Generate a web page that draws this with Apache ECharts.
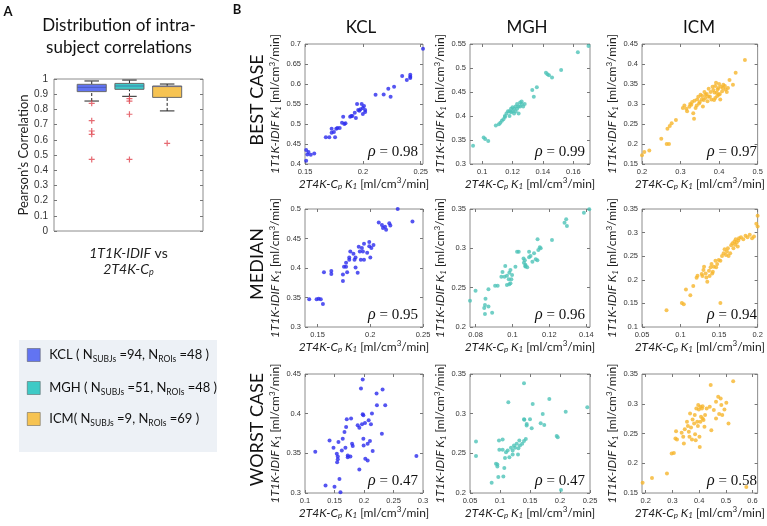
<!DOCTYPE html>
<html>
<head>
<meta charset="utf-8">
<script src="https://cdn.jsdelivr.net/npm/echarts@6/dist/echarts.min.js"></script>
<style>
html, body { margin: 0; padding: 0; background: #fff; }
#main { width: 767px; height: 526px; }
</style>
</head>
<body>
<div id="main"></div>
<script>
// ---- data ----
var sites = ['KCL', 'MGH', 'ICM'];
var nSubjs = [94, 51, 9];
var nRois = [48, 48, 69];
var rowNames = ['BEST CASE', 'MEDIAN', 'WORST CASE'];

// box plot: [lower whisker, Q1, median, Q3, upper whisker]
var boxStats = [
    [0.855, 0.917, 0.945, 0.965, 0.987],
    [0.886, 0.932, 0.954, 0.971, 0.993],
    [0.79, 0.879, 0.95, 0.954, 0.967]
];
var boxOutliers = [
    [0.84, 0.726, 0.658, 0.636, 0.471],
    [0.871, 0.855, 0.768, 0.471],
    [0.577]
];
var corrTicks = [0, 0.1, 0.2, 0.3, 0.4, 0.5, 0.6, 0.7, 0.8, 0.9, 1];

var rhoValues = [[0.98, 0.99, 0.97], [0.95, 0.96, 0.94], [0.47, 0.47, 0.58]];

var kclBest = [[0.151,0.408],[0.151,0.435],[0.152,0.424],[0.153,0.43],[0.155,0.423],[0.158,0.426],
    [0.168,0.467],[0.171,0.467],[0.173,0.478],[0.173,0.488],[0.175,0.48],[0.176,0.467],[0.177,0.488],
    [0.178,0.49],[0.18,0.49],[0.182,0.503],[0.183,0.518],[0.184,0.5],[0.185,0.502],[0.189,0.518],
    [0.19,0.52],[0.191,0.52],[0.193,0.528],[0.194,0.515],[0.195,0.55],[0.196,0.535],[0.197,0.533],
    [0.198,0.537],[0.199,0.55],[0.2,0.525],[0.2,0.54],[0.201,0.545],[0.202,0.535],[0.202,0.53],
    [0.211,0.573],[0.218,0.574],[0.222,0.588],[0.224,0.568],[0.227,0.593],[0.234,0.62],[0.238,0.61],
    [0.241,0.618],[0.241,0.623],[0.241,0.615],[0.252,0.688]];
var mghBest = [[0.094,0.338],[0.101,0.355],[0.102,0.352],[0.104,0.348],[0.109,0.38],[0.111,0.383],
    [0.112,0.386],[0.113,0.39],[0.114,0.393],[0.115,0.398],[0.116,0.405],[0.117,0.41],[0.118,0.4],
    [0.119,0.408],[0.12,0.41],[0.12,0.418],[0.121,0.415],[0.122,0.42],[0.122,0.41],[0.123,0.425],
    [0.124,0.42],[0.124,0.405],[0.125,0.428],[0.126,0.43],[0.127,0.42],[0.128,0.425],[0.119,0.415],
    [0.121,0.405],[0.123,0.415],[0.125,0.42],[0.126,0.425],[0.118,0.41],[0.115,0.4],[0.133,0.454],
    [0.136,0.46],[0.134,0.44],[0.142,0.49],[0.143,0.487],[0.144,0.485],[0.146,0.48],[0.152,0.496],
    [0.163,0.533],[0.17,0.546]];
var icmBest = [[0.2,0.172],[0.206,0.18],[0.219,0.184],[0.25,0.213],[0.264,0.2],[0.27,0.2],[0.266,0.238],
    [0.272,0.245],[0.277,0.252],[0.288,0.26],[0.306,0.29],[0.317,0.282],[0.323,0.293],[0.328,0.298],
    [0.333,0.277],[0.335,0.263],[0.339,0.29],[0.343,0.311],[0.348,0.301],[0.352,0.323],[0.355,0.311],
    [0.358,0.294],[0.364,0.315],[0.365,0.323],[0.37,0.307],[0.373,0.338],[0.376,0.319],[0.38,0.311],
    [0.383,0.343],[0.388,0.329],[0.39,0.315],[0.392,0.353],[0.396,0.336],[0.399,0.323],[0.403,0.311],
    [0.405,0.343],[0.408,0.332],[0.411,0.348],[0.417,0.336],[0.423,0.34],[0.427,0.36],[0.436,0.348],
    [0.443,0.378],[0.467,0.41],[0.31,0.296],[0.315,0.288],[0.325,0.3],[0.33,0.305],[0.336,0.308],
    [0.342,0.296],[0.346,0.318],[0.35,0.305],[0.356,0.32],[0.36,0.31],[0.362,0.33],[0.368,0.325],
    [0.372,0.318],[0.378,0.33],[0.385,0.335],[0.39,0.345],[0.394,0.328],[0.398,0.34],[0.4,0.35],
    [0.402,0.325],[0.41,0.34],[0.415,0.345],[0.42,0.33],[0.395,0.32],[0.387,0.31]];

var kclMedian = [[0.1376,0.332],[0.142,0.347],[0.149,0.347],[0.151,0.348],[0.153,0.347],[0.155,0.339],
    [0.156,0.393],[0.163,0.395],[0.163,0.39],[0.174,0.378],[0.174,0.389],[0.175,0.402],[0.177,0.402],
    [0.178,0.393],[0.177,0.409],[0.18,0.414],[0.18,0.418],[0.181,0.428],[0.184,0.424],[0.185,0.414],
    [0.186,0.418],[0.186,0.401],[0.188,0.392],[0.189,0.436],[0.19,0.428],[0.191,0.414],[0.192,0.434],
    [0.193,0.428],[0.194,0.414],[0.194,0.441],[0.197,0.426],[0.199,0.444],[0.199,0.437],[0.2,0.418],
    [0.201,0.434],[0.203,0.439],[0.208,0.477],[0.211,0.473],[0.212,0.468],[0.214,0.47],[0.215,0.465],
    [0.218,0.476],[0.219,0.472],[0.226,0.5],[0.24,0.479]];
var mghMedian = [[0.077,0.2334],[0.08,0.246],[0.0847,0.224],[0.0851,0.228],[0.0851,0.2166],[0.087,0.226],
    [0.0854,0.236],[0.087,0.248],[0.089,0.218],[0.0906,0.2525],[0.092,0.2525],[0.094,0.264],[0.0946,0.27],
    [0.0957,0.264],[0.097,0.265],[0.097,0.2535],[0.0983,0.2543],[0.0983,0.269],[0.0994,0.2606],
    [0.1016,0.2767],[0.1034,0.2957],[0.106,0.287],[0.107,0.279],[0.107,0.277],[0.0961,0.2775],
    [0.0989,0.2725],[0.0998,0.266],[0.0989,0.2556],[0.098,0.2606],[0.1025,0.2957],[0.1062,0.2818],
    [0.1071,0.2775],[0.1067,0.285],[0.108,0.2759],[0.109,0.2886],[0.1098,0.2902],[0.1108,0.283],
    [0.1117,0.2936],[0.1126,0.286],[0.1135,0.285],[0.109,0.2957],[0.1136,0.3115],[0.114,0.2979],
    [0.1153,0.3],[0.1148,0.3013],[0.1214,0.3106],[0.1282,0.3326],[0.1291,0.3369],[0.1295,0.3284],
    [0.1387,0.3453],[0.1416,0.3496]];
var icmMedian = [[0.0818,0.1355],[0.1017,0.151],[0.1042,0.148],[0.107,0.1795],[0.1127,0.1675],
    [0.1165,0.1866],[0.1208,0.2044],[0.122,0.2087],[0.1275,0.2122],[0.1297,0.2207],[0.1305,0.2278],
    [0.1284,0.208],[0.1326,0.2136],[0.1335,0.2051],[0.1347,0.1959],[0.1369,0.2193],[0.1377,0.208],
    [0.139,0.2264],[0.1402,0.2335],[0.1411,0.2136],[0.1419,0.2172],[0.1432,0.2278],[0.1453,0.2406],
    [0.1475,0.2335],[0.1496,0.242],[0.1517,0.2406],[0.1462,0.2264],[0.1517,0.1511],[0.1538,0.2506],
    [0.1559,0.2562],[0.1572,0.2648],[0.1602,0.2598],[0.1589,0.2527],[0.1614,0.2669],[0.1623,0.2506],
    [0.1644,0.2562],[0.1657,0.2733],[0.1674,0.2776],[0.1686,0.2669],[0.1699,0.2811],[0.1708,0.274],
    [0.1716,0.2861],[0.1729,0.279],[0.1742,0.2705],[0.175,0.2832],[0.1758,0.2882],[0.1784,0.2903],
    [0.1814,0.2861],[0.1843,0.2932],[0.1869,0.2903],[0.1898,0.2953],[0.1928,0.2882],[0.1953,0.2918],
    [0.1983,0.3188],[0.2,0.3131],[0.2,0.3358]];

var kclWorst = [[0.1174,0.352],[0.1348,0.3093],[0.1416,0.3663],[0.1483,0.357],[0.15,0.308],
    [0.1539,0.3494],[0.1556,0.346],[0.1556,0.3426],[0.1545,0.3389],[0.1567,0.3642],[0.1584,0.3177],
    [0.1601,0.3008],[0.1624,0.3536],[0.164,0.3684],[0.1669,0.3769],[0.1685,0.357],[0.1697,0.3832],
    [0.1708,0.393],[0.1725,0.3473],[0.1725,0.3452],[0.1781,0.3938],[0.177,0.346],[0.1798,0.3621],
    [0.1809,0.3591],[0.1893,0.3853],[0.1921,0.3824],[0.1921,0.3296],[0.1949,0.4318],[0.1966,0.3866],
    [0.1978,0.4432],[0.1978,0.3993],[0.1989,0.398],[0.1989,0.3684],[0.1994,0.36],[0.2017,0.3883],
    [0.2022,0.3431],[0.2062,0.3409],[0.2062,0.3621],[0.2079,0.3917],[0.2101,0.3655],[0.2118,0.3866],
    [0.2135,0.4001],[0.2147,0.3528],[0.2213,0.4255],[0.2219,0.4107],[0.2303,0.3748],[0.2315,0.4306],
    [0.236,0.4107],[0.2888,0.3465]];
var mghWorst = [[0.06,0.2649],[0.06,0.2465],[0.0861,0.213],[0.0933,0.2368],[0.0956,0.236],[0.0956,0.2335],
    [0.0972,0.2201],[0.0983,0.2662],[0.1044,0.2674],[0.0989,0.2544],[0.1044,0.2544],[0.1056,0.2209],
    [0.1072,0.2314],[0.1083,0.244],[0.11,0.2515],[0.1128,0.2536],[0.1139,0.3144],[0.1156,0.2452],
    [0.1183,0.257],[0.1211,0.2536],[0.1233,0.2599],[0.125,0.257],[0.1211,0.2486],[0.1278,0.262],
    [0.1306,0.2565],[0.1322,0.2662],[0.1333,0.2599],[0.14,0.3383],[0.1406,0.2922],[0.1444,0.285],
    [0.1545,0.3122],[0.1822,0.3185],[0.14,0.2929],[0.15,0.2929],[0.1445,0.287],[0.1528,0.2816],
    [0.1712,0.2996],[0.1678,0.2878],[0.1738,0.2857],[0.1945,0.2718],[0.1962,0.2702],[0.2095,0.3025],
    [0.2455,0.308],[0.2017,0.2038],[0.137,0.262],[0.14,0.2655],[0.143,0.268],[0.13,0.2485]];
var icmWorst = [[0.1883,0.1674],[0.2234,0.1753],[0.2795,0.1826],[0.2971,0.2163],[0.3053,0.2174],
    [0.3111,0.2416],[0.3135,0.2539],[0.317,0.2399],[0.3345,0.2511],[0.3404,0.2444],[0.3462,0.2573],
    [0.3427,0.2331],[0.3544,0.2697],[0.3579,0.2624],[0.3614,0.2528],[0.3637,0.2444],[0.366,0.2837],
    [0.3696,0.2601],[0.3731,0.2399],[0.3754,0.2736],[0.3813,0.2669],[0.3836,0.2809],[0.3848,0.2489],
    [0.3871,0.2388],[0.3895,0.2921],[0.393,0.2697],[0.3953,0.2624],[0.3988,0.2904],[0.4012,0.2444],
    [0.4023,0.2275],[0.4047,0.2697],[0.407,0.2781],[0.4105,0.2921],[0.4129,0.2753],[0.4164,0.2725],
    [0.4199,0.2612],[0.4222,0.2809],[0.3965,0.2977],[0.4047,0.2949],[0.4129,0.296],[0.4281,0.2921],
    [0.4398,0.2949],[0.4456,0.2556],[0.455,0.2893],[0.4632,0.3034],[0.4632,0.2753],[0.4713,0.3118],
    [0.4749,0.2826],[0.4807,0.3089],[0.483,0.2977],[0.4865,0.2809],[0.4947,0.2904],[0.5018,0.3017],
    [0.5099,0.2669],[0.5275,0.338],[0.5766,0.16],[0.4433,0.3315]];

var panelData = [
    [kclBest, mghBest, icmBest],
    [kclMedian, mghMedian, icmMedian],
    [kclWorst, mghWorst, icmWorst]
];
// axis extents and tick labels of each panel
var xExtents = [
    [[0.15, 0.252], [0.092, 0.171], [0.2, 0.5]],
    [[0.138, 0.25], [0.077, 0.142], [0.05, 0.2]],
    [[0.1, 0.3], [0.05, 0.25], [0.186, 0.619]]
];
var xTickLabels = [
    [[0.15, 0.2, 0.25], [0.1, 0.12, 0.14, 0.16], [0.2, 0.3, 0.4, 0.5]],
    [[0.15, 0.2, 0.25], [0.08, 0.1, 0.12, 0.14], [0.05, 0.1, 0.15, 0.2]],
    [[0.1, 0.15, 0.2, 0.25, 0.3], [0.05, 0.1, 0.15, 0.2, 0.25], [0.2, 0.3, 0.4, 0.5, 0.6]]
];
var yTickLabels = [
    [[0.4, 0.45, 0.5, 0.55, 0.6, 0.65, 0.7], [0.3, 0.35, 0.4, 0.45, 0.5, 0.55], [0.15, 0.2, 0.25, 0.3, 0.35, 0.4, 0.45]],
    [[0.3, 0.35, 0.4, 0.45, 0.5], [0.2, 0.25, 0.3, 0.35], [0.1, 0.15, 0.2, 0.25, 0.3, 0.35]],
    [[0.3, 0.35, 0.4, 0.45], [0.2, 0.25, 0.3, 0.35], [0.15, 0.2, 0.25, 0.3, 0.35]]
];

// ---- styles / layout ----
var dotColors = ['#2a2aee', '#4dc3b8', '#f6b52c'];
var boxColors = ['#6274f2', '#3ecac6', '#f6c352'];
var colLeft = [305, 470, 642], colWidth = [118, 120, 120];
var rowTop = [44, 209, 374], rowHeight = [120, 118, 119];
var sansFont = 'Lato';
var tickFont = 'Liberation Sans';

var subRich = {
    it: { fontStyle: 'italic' },
    itsub: { fontStyle: 'italic', fontSize: 8, lineHeight: 8, verticalAlign: 'bottom' },
    sub: { fontSize: 8, lineHeight: 8, verticalAlign: 'bottom' },
    sup: { fontSize: 8, lineHeight: 8, verticalAlign: 'top' }
};
var xNameB = '{it|2T4K-C}{itsub|p}{it| K}{itsub|1} [ml/cm{sup|3}/min]';
var yNameB = '{it|1T1K-IDIF K}{itsub|1} [ml/cm{sup|3}/min]';

function fmt(v) { return String(+(+v).toFixed(3)); }

var grids = [{ left: 54, top: 79, width: 149, height: 152, show: true, borderColor: '#8c8c8c', borderWidth: 1 }];
var xAxes = [{
    type: 'value', gridIndex: 0, min: 0, max: 3.95,
    axisLine: { show: false }, axisTick: { show: false }, axisLabel: { show: false }, splitLine: { show: false },
    name: '{it|1T1K-IDIF} vs\n{it|2T4K-C}{itsub|p}', nameLocation: 'middle', nameGap: 14,
    nameTextStyle: { fontFamily: sansFont, fontSize: 14, color: '#222', lineHeight: 16,
        rich: { it: { fontStyle: 'italic', fontSize: 14 }, itsub: { fontStyle: 'italic', fontSize: 9, lineHeight: 9, verticalAlign: 'bottom' } } }
}];
var yAxes = [{
    type: 'value', gridIndex: 0, min: 0, max: 1,
    axisLine: { show: false }, splitLine: { show: false },
    axisTick: { inside: true, length: 3, lineStyle: { color: '#777' }, customValues: corrTicks },
    axisLabel: { fontSize: 10, color: '#333', fontFamily: tickFont, margin: 6, formatter: fmt, customValues: corrTicks },
    name: 'Pearson’s Correlation', nameLocation: 'middle', nameGap: 20, nameRotate: 90,
    nameTextStyle: { fontFamily: sansFont, fontSize: 13, color: '#222' }
}, {
    type: 'value', gridIndex: 0, min: 0, max: 1, position: 'right',
    axisLine: { show: false }, splitLine: { show: false }, axisLabel: { show: false },
    axisTick: { inside: true, length: 3, lineStyle: { color: '#777' }, customValues: corrTicks }
}];

var series = [];
var graphics = [
    { type: 'text', x: 8, y: 12, style: { text: 'A', font: 'bold 13px ' + sansFont, fill: '#111', align: 'center', verticalAlign: 'middle' } },
    { type: 'text', x: 237, y: 10, style: { text: 'B', font: 'bold 13px ' + sansFont, fill: '#111', align: 'center', verticalAlign: 'middle' } },
    { type: 'text', x: 119, y: 37, style: { text: 'Distribution of intra-\nsubject correlations', font: '17px ' + sansFont, lineHeight: 22, fill: '#111', align: 'center', verticalAlign: 'middle' } },
    { type: 'rect', shape: { x: 19, y: 340, width: 198, height: 112 }, style: { fill: '#edf1f6' }, z: -1 }
];

// box plots (panel A)
sites.forEach(function (site, i) {
    series.push({
        type: 'custom', name: site, xAxisIndex: 0, yAxisIndex: 0,
        itemStyle: { color: boxColors[i] },
        data: [[i + 1].concat(boxStats[i])],
        renderItem: function (params, api) {
            var x = api.value(0);
            var w = api.size([0.77, 0])[0];
            var cx = api.coord([x, 0])[0];
            var yv = [1, 2, 3, 4, 5].map(function (k) { return api.coord([x, api.value(k)])[1]; });
            var dash = { stroke: '#222', lineWidth: 1, lineDash: [3, 2] };
            var solid = { stroke: '#222', lineWidth: 1 };
            return { type: 'group', children: [
                { type: 'line', shape: { x1: cx, y1: yv[0], x2: cx, y2: yv[1] }, style: dash },
                { type: 'line', shape: { x1: cx, y1: yv[3], x2: cx, y2: yv[4] }, style: dash },
                { type: 'line', shape: { x1: cx - w / 4, y1: yv[0], x2: cx + w / 4, y2: yv[0] }, style: solid },
                { type: 'line', shape: { x1: cx - w / 4, y1: yv[4], x2: cx + w / 4, y2: yv[4] }, style: solid },
                { type: 'rect', shape: { x: cx - w / 2, y: yv[3], width: w, height: yv[1] - yv[3] },
                  style: { fill: boxColors[i], stroke: '#6a6a6a', lineWidth: 1 } },
                { type: 'line', shape: { x1: cx - w / 2, y1: yv[2], x2: cx + w / 2, y2: yv[2] }, style: { stroke: '#3d4fa0', lineWidth: 1, opacity: 0.6 } }
            ] };
        }
    });
    series.push({
        type: 'scatter', xAxisIndex: 0, yAxisIndex: 0, silent: true,
        symbol: 'path://M4,0H6V10H4Z M0,4H10V6H0Z', symbolSize: 6,
        itemStyle: { color: '#e0454f' },
        data: boxOutliers[i].map(function (v) { return [i + 1, v]; })
    });
});

// legend box
var legendPrefix = ['KCL ( ', 'MGH ( ', 'ICM( '];
var legendCenters = [355, 388, 419];
var legends = sites.map(function (site, i) {
    return {
        data: [site], left: 27, top: legendCenters[i] - 9, padding: 0, icon: 'rect', itemWidth: 13, itemHeight: 13,
        itemStyle: { borderColor: '#555', borderWidth: 0.5 },
        selectedMode: false,
        formatter: function (name) {
            var k = sites.indexOf(name);
            return legendPrefix[k] + 'N{s|SUBJs} =' + nSubjs[k] + ', N{s|ROIs} =' + nRois[k] + ' )';
        },
        textStyle: { fontFamily: sansFont, fontSize: 13, color: '#111', lineHeight: 18, padding: [0, 0, 0, 4],
            rich: { s: { fontSize: 8.5, lineHeight: 9, verticalAlign: 'bottom' } } }
    };
});

// scatter panels (panel B)
for (var r = 0; r < 3; r++) {
    for (var c = 0; c < 3; c++) {
        var g = grids.length;
        grids.push({ left: colLeft[c], top: rowTop[r], width: colWidth[c], height: rowHeight[r], show: true, borderColor: '#8c8c8c', borderWidth: 1 });
        var xt = xTickLabels[r][c], yt = yTickLabels[r][c];
        var tick = { inside: true, length: 3, lineStyle: { color: '#777' } };
        xAxes.push({
            type: 'value', gridIndex: g, min: xExtents[r][c][0], max: xExtents[r][c][1],
            axisLine: { show: false }, splitLine: { show: false },
            axisTick: Object.assign({ customValues: xt }, tick),
            axisLabel: { fontSize: 7.5, color: '#333', fontFamily: tickFont, margin: 4, formatter: fmt, customValues: xt },
            name: xNameB, nameLocation: 'middle', nameGap: 12,
            nameTextStyle: { fontFamily: sansFont, fontSize: 12, color: '#222', lineHeight: 14, rich: subRich }
        });
        xAxes.push({
            type: 'value', gridIndex: g, position: 'top', min: xExtents[r][c][0], max: xExtents[r][c][1],
            axisLine: { show: false }, splitLine: { show: false }, axisLabel: { show: false },
            axisTick: Object.assign({ customValues: xt }, tick)
        });
        yAxes.push({
            type: 'value', gridIndex: g, min: yt[0], max: yt[yt.length - 1],
            axisLine: { show: false }, splitLine: { show: false },
            axisTick: Object.assign({ customValues: yt }, tick),
            axisLabel: { fontSize: 7.5, color: '#333', fontFamily: tickFont, margin: 4, formatter: fmt, customValues: yt },
            name: yNameB, nameLocation: 'middle', nameGap: 16, nameRotate: 90,
            nameTextStyle: { fontFamily: sansFont, fontSize: 12, color: '#222', lineHeight: 14, rich: subRich }
        });
        yAxes.push({
            type: 'value', gridIndex: g, position: 'right', min: yt[0], max: yt[yt.length - 1],
            axisLine: { show: false }, splitLine: { show: false }, axisLabel: { show: false },
            axisTick: Object.assign({ customValues: yt }, tick)
        });
        series.push({
            type: 'scatter', xAxisIndex: xAxes.length - 2, yAxisIndex: yAxes.length - 2, silent: true,
            symbolSize: 4, itemStyle: { color: dotColors[c] },
            data: panelData[r][c]
        });
        graphics.push({
            type: 'text', x: colLeft[c] + colWidth[c] - 5, y: rowTop[r] + rowHeight[r] - 12,
            style: { text: '{r|ρ} = ' + rhoValues[r][c].toFixed(2), font: '15px "Liberation Serif"', fill: '#111',
                align: 'right', verticalAlign: 'middle',
                rich: { r: { fontStyle: 'italic', fontFamily: 'Liberation Serif', fontSize: 16 } } }
        });
    }
}

// column and row headings
sites.forEach(function (site, c) {
    graphics.push({ type: 'text', x: colLeft[c] + colWidth[c] / 2 - 3, y: 28,
        style: { text: site, font: '17px ' + sansFont, fill: '#111', align: 'center', verticalAlign: 'middle' } });
});
rowNames.forEach(function (name, r) {
    graphics.push({ type: 'text', x: 257, y: rowTop[r] + rowHeight[r] / 2 - 4, rotation: Math.PI / 2,
        style: { text: name, font: '18px ' + sansFont, fill: '#111', align: 'center', verticalAlign: 'middle' } });
});

var chart = echarts.init(document.getElementById('main'), null, { renderer: 'canvas' });
chart.setOption({
    animation: false,
    backgroundColor: '#fff',
    textStyle: { fontFamily: sansFont },
    grid: grids,
    xAxis: xAxes,
    yAxis: yAxes,
    legend: legends,
    series: series,
    graphic: graphics
});
</script>
</body>
</html>
